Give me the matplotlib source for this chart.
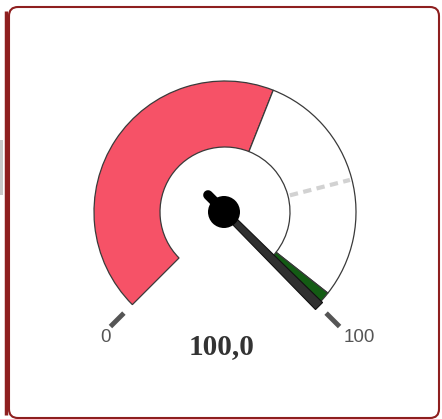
import numpy as np
import matplotlib.pyplot as plt
from matplotlib.patches import Wedge, Circle, FancyBboxPatch, Polygon, Rectangle

# gauge data
vmin, vmax = 0, 100
value = 100.0
value_label = '100,0'
band_edges = [0, 58, 97.5, 100]
band_colors = ['#f65267', '#ffffff', '#135c14']
target = 78
tick_values = [0, 100]
tick_labels = ['0', '100']

W, H = 442, 419
fig = plt.figure(figsize=(W / 100, H / 100), dpi=100)
ax = fig.add_axes([0, 0, 1, 1])
ax.set_xlim(0, W)
ax.set_ylim(0, H)
ax.axis('off')

# card border
ax.add_patch(Rectangle((0, H - 195), 3, 55, fc='#c9c9c9', ec='none'))
ax.add_patch(FancyBboxPatch((9, 1), 430, 411, boxstyle='round,pad=0,rounding_size=9',
                            ec='#8e1f1f', fc='white', lw=1.5))
ax.plot([6, 6], [4, 408], color='#8e1f1f', lw=2.5, solid_capstyle='butt')

cx, cy = 225, H - 212
r_out, r_in = 131, 65


def ang(v):
    return 225 - 270 * (v - vmin) / (vmax - vmin)


def pt(v, r):
    a = np.radians(ang(v))
    return cx + r * np.cos(a), cy + r * np.sin(a)


# bands
for i in range(len(band_colors)):
    ax.add_patch(Wedge((cx, cy), r_out, ang(band_edges[i + 1]), ang(band_edges[i]),
                       width=r_out - r_in, fc=band_colors[i], ec='#3a3a3a', lw=0.9))

# target marker
x0, y0 = pt(target, r_in + 2)
x1, y1 = pt(target, r_out - 2)
ax.plot([x0, x1], [y0, y1], color='#d2d2d2', lw=3, dashes=(2, 1.3), solid_capstyle='butt')

# ticks and labels at the ends
for v, lab in zip(tick_values, tick_labels):
    x0, y0 = pt(v, 143)
    x1, y1 = pt(v, 162)
    ax.plot([x0, x1], [y0, y1], color='#555555', lw=3.5, solid_capstyle='butt')
    lx, ly = pt(v, 172)
    ax.text(lx - 3, ly - 4, lab, ha='left', va='center', fontsize=13.5, color='#555555',
            family='Liberation Sans')

# needle
a = np.radians(ang(value))
u = np.array([np.cos(a), np.sin(a)])
n = np.array([-u[1], u[0]])
c = np.array([cx, cy])
needle = [c + 12 * u + 3.5 * n, c + 133 * u + 5 * n, c + 133 * u - 5 * n, c + 12 * u - 3.5 * n]
ax.add_patch(Polygon(needle, closed=True, fc='#303030', ec='#111111', lw=0.8))
tx, ty = c - 24 * u
ax.plot([cx, tx], [cy, ty], color='black', lw=7, solid_capstyle='round')
ax.add_patch(Circle((cx - 1, cy), 16, fc='black', ec='none'))

ax.text(222, H - 347, value_label, ha='center', va='center', fontsize=21,
        fontweight='bold', color='#333333', family='Liberation Serif')

fig.savefig('out.png', dpi=100)
